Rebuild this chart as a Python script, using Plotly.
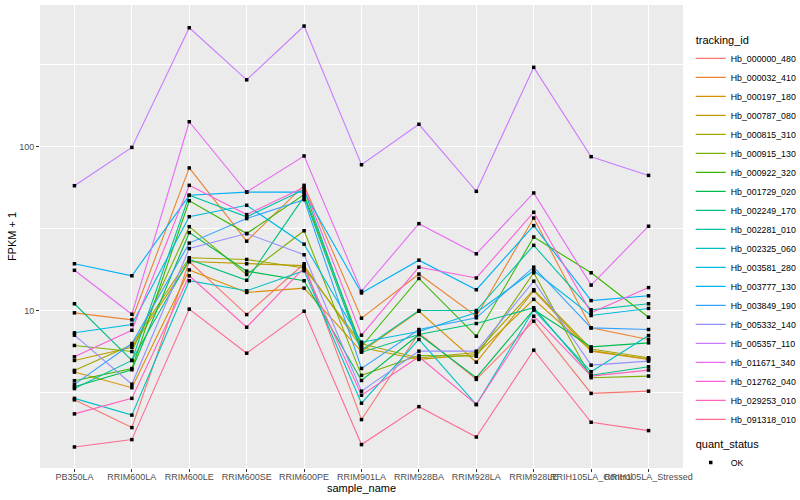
import math
import plotly.graph_objects as go

samples = ["PB350LA", "RRIM600LA", "RRIM600LE", "RRIM600SE", "RRIM600PE",
           "RRIM901LA", "RRIM928BA", "RRIM928LA", "RRIM928LE",
           "RRIH105LA_Control", "RRIH105LA_Stressed"]

tracking_ids = ["Hb_000000_480", "Hb_000032_410", "Hb_000197_180", "Hb_000787_080",
                "Hb_000815_310", "Hb_000915_130", "Hb_000922_320", "Hb_001729_020",
                "Hb_002249_170", "Hb_002281_010", "Hb_002325_060", "Hb_003581_280",
                "Hb_003777_130", "Hb_003849_190", "Hb_005332_140", "Hb_005357_110",
                "Hb_011671_340", "Hb_012762_040", "Hb_029253_010", "Hb_091318_010"]

colors = ["#F8766D", "#EA8331", "#D89000", "#C09B00", "#A3A500", "#7CAE00", "#39B600",
          "#00BB4E", "#00BF7D", "#00C1A3", "#00BFC4", "#00BAE0", "#00B0F6", "#35A2FF",
          "#9590FF", "#C77CFF", "#E76BF3", "#FA62DB", "#FF62BC", "#FF6C91"]

# FPKM + 1 per sample (same order as samples)
Hb_000000_480 = [2.85, 1.93, 19.9, 9.45, 19.3, 2.16, 7.29, 3.80, 8.61, 3.12, 3.22]
Hb_000032_410 = [9.68, 8.78, 74.2, 26.5, 58.1, 8.98, 16.7, 9.23, 36.7, 7.84, 6.66]
Hb_000197_180 = [4.21, 3.38, 17.7, 12.9, 13.7, 5.62, 9.90, 4.84, 13.2, 5.65, 5.03]
Hb_000787_080 = [4.96, 5.97, 19.9, 19.3, 18.8, 5.95, 5.03, 5.39, 11.7, 5.70, 5.06]
Hb_000815_310 = [4.31, 6.18, 21.0, 20.5, 18.2, 6.27, 5.13, 5.54, 13.4, 5.83, 5.15]
Hb_000915_130 = [6.12, 5.62, 32.5, 16.6, 30.7, 4.02, 5.31, 5.26, 17.0, 3.89, 3.98]
Hb_000922_320 = [3.73, 4.43, 46.8, 29.5, 51.0, 6.03, 15.7, 6.97, 28.1, 17.0, 9.10]
Hb_001729_020 = [3.43, 4.35, 29.9, 17.4, 15.2, 3.74, 7.14, 3.89, 10.1, 6.00, 6.35]
Hb_002249_170 = [11.0, 4.96, 20.5, 15.3, 49.6, 5.57, 7.14, 8.33, 10.4, 4.03, 4.54]
Hb_002281_010 = [3.34, 4.96, 50.5, 37.3, 54.7, 5.73, 10.0, 10.0, 25.0, 10.1, 11.0]
Hb_002325_060 = [2.91, 2.30, 15.2, 13.2, 17.5, 2.72, 6.66, 2.67, 10.1, 4.23, 7.04]
Hb_003581_280 = [7.31, 8.21, 37.4, 43.9, 25.4, 6.41, 7.45, 9.72, 17.5, 9.32, 10.3]
Hb_003777_130 = [19.3, 16.3, 50.5, 52.8, 52.9, 12.8, 20.3, 13.4, 33.0, 11.5, 12.3]
Hb_003849_190 = [3.54, 6.29, 25.8, 36.4, 47.5, 4.43, 7.66, 9.03, 18.4, 7.84, 7.66]
Hb_005332_140 = [7.07, 3.55, 23.9, 29.5, 21.9, 3.22, 5.65, 5.65, 15.1, 4.64, 4.91]
Hb_005357_110 = [57.8, 99.0, 532, 256, 545, 77.6, 137, 53.4, 305, 86.9, 66.8]
Hb_011671_340 = [17.6, 9.49, 142, 52.9, 87.8, 13.1, 33.9, 22.2, 52.2, 14.3, 32.7]
Hb_012762_040 = [5.22, 7.58, 58.1, 38.5, 56.5, 7.07, 18.4, 15.8, 39.8, 9.68, 13.8]
Hb_029253_010 = [2.34, 2.91, 16.3, 7.91, 18.2, 3.04, 5.22, 2.67, 9.23, 3.98, 4.33]
Hb_091318_010 = [1.47, 1.63, 10.2, 5.49, 9.90, 1.52, 2.59, 1.69, 5.73, 2.08, 1.85]

series = [Hb_000000_480, Hb_000032_410, Hb_000197_180, Hb_000787_080, Hb_000815_310,
          Hb_000915_130, Hb_000922_320, Hb_001729_020, Hb_002249_170, Hb_002281_010,
          Hb_002325_060, Hb_003581_280, Hb_003777_130, Hb_003849_190, Hb_005332_140,
          Hb_005357_110, Hb_011671_340, Hb_012762_040, Hb_029253_010, Hb_091318_010]

y_ticks = [10, 100]
y_tick_labels = ["10", "100"]

FONT = "Liberation Sans, Arial, Helvetica, sans-serif"

fig = go.Figure()
for i, (tid, vals, col) in enumerate(zip(tracking_ids, series, colors)):
    fig.add_trace(go.Scatter(
        x=samples, y=vals, mode="lines", name=tid,
        line=dict(color=col, width=1.1),
        legendgroup="tracking_id",
        legendgrouptitle=dict(text="tracking_id", font=dict(size=11, color="black")) if i == 0 else None,
    ))

all_x = [s for vals in series for s in samples]
all_y = [v for vals in series for v in vals]
fig.add_trace(go.Scatter(
    x=all_x, y=all_y, mode="markers", name="OK",
    marker=dict(symbol="square", size=3.5, color="black"),
    legendgroup="quant_status",
    legendgrouptitle=dict(text="quant_status", font=dict(size=11, color="black")),
))

lo = math.log10(min(all_y))
hi = math.log10(max(all_y))
pad = (hi - lo) * 0.05

fig.update_layout(
    width=800, height=500,
    margin=dict(l=40, r=117, t=5, b=32, autoexpand=False),
    paper_bgcolor="white", plot_bgcolor="#EBEBEB",
    font=dict(family=FONT, size=9, color="black"),
    showlegend=True,
    legend=dict(x=1.012, xanchor="left", y=0.957, yanchor="top",
                font=dict(size=8.8, color="black"), tracegroupgap=5,
                bgcolor="rgba(0,0,0,0)"),
)
fig.update_xaxes(
    type="category", categoryorder="array", categoryarray=samples,
    range=[-0.6, len(samples) - 0.4],
    showgrid=True, gridcolor="white", gridwidth=1.2,
    zeroline=False, showline=False,
    ticks="outside", ticklen=3, tickcolor="#333333", tickangle=0,
    ticklabelstandoff=-3,
    tickfont=dict(size=9, color="#4D4D4D"),
    title=dict(text="sample_name", font=dict(size=11, color="black"), standoff=0),
    automargin=False,
)
fig.update_yaxes(
    type="log", range=[lo - pad, hi + pad],
    tickvals=y_ticks, ticktext=y_tick_labels,
    showgrid=True, gridcolor="white", gridwidth=1.2,
    minor=dict(tickvals=[10 ** 0.5, 10 ** 1.5, 10 ** 2.5], showgrid=True,
               gridcolor="white", gridwidth=0.6, ticks=""),
    zeroline=False, showline=False,
    ticks="outside", ticklen=3, tickcolor="#333333",
    tickfont=dict(size=9, color="#4D4D4D"),
    title=dict(text="FPKM + 1", font=dict(size=11, color="black"), standoff=0),
    automargin=False,
)

fig.write_html("out.html", config={"displayModeBar": False},
               post_script="document.body.style.margin='0';")
